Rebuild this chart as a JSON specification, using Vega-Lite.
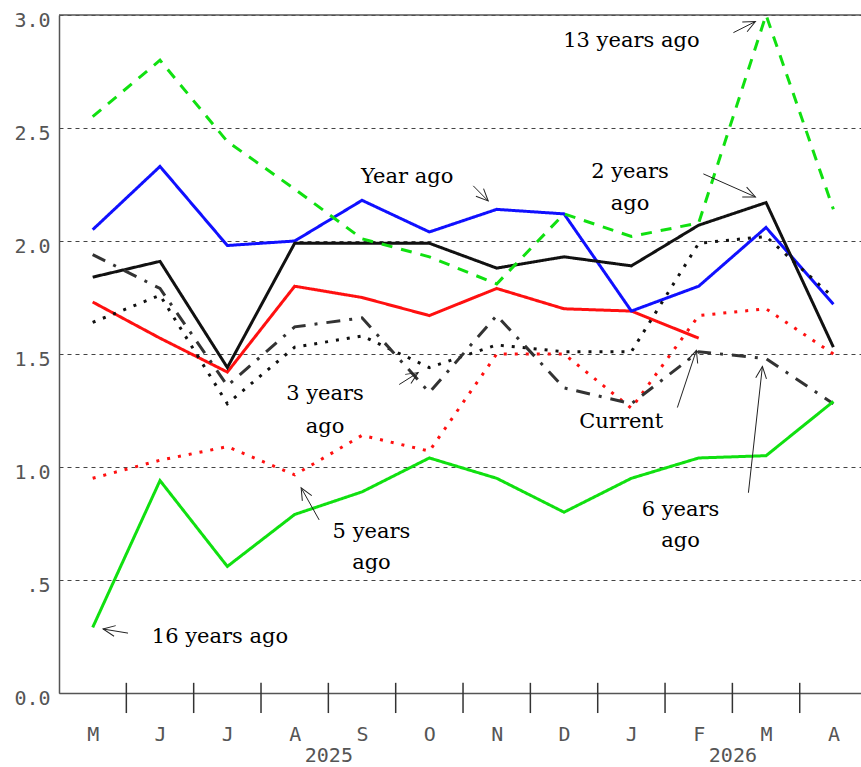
{
  "$schema": "https://vega.github.io/schema/vega-lite/v6.json",
  "width": 802,
  "height": 678,
  "autosize": {"type": "none"},
  "padding": {"left": 59, "top": 15, "right": 0, "bottom": 74},
  "background": "white",
  "config": {"view": {"stroke": null}},
  "datasets": {
    "lines": [
      {"series": "Current", "m": 1, "v": 1.73}, {"series": "Current", "m": 2, "v": 1.57}, {"series": "Current", "m": 3, "v": 1.42}, {"series": "Current", "m": 4, "v": 1.80}, {"series": "Current", "m": 5, "v": 1.75}, {"series": "Current", "m": 6, "v": 1.67}, {"series": "Current", "m": 7, "v": 1.79}, {"series": "Current", "m": 8, "v": 1.70}, {"series": "Current", "m": 9, "v": 1.69}, {"series": "Current", "m": 10, "v": 1.57},
      {"series": "Year ago", "m": 1, "v": 2.05}, {"series": "Year ago", "m": 2, "v": 2.33}, {"series": "Year ago", "m": 3, "v": 1.98}, {"series": "Year ago", "m": 4, "v": 2.00}, {"series": "Year ago", "m": 5, "v": 2.18}, {"series": "Year ago", "m": 6, "v": 2.04}, {"series": "Year ago", "m": 7, "v": 2.14}, {"series": "Year ago", "m": 8, "v": 2.12}, {"series": "Year ago", "m": 9, "v": 1.69}, {"series": "Year ago", "m": 10, "v": 1.80}, {"series": "Year ago", "m": 11, "v": 2.06}, {"series": "Year ago", "m": 12, "v": 1.72},
      {"series": "2 years ago", "m": 1, "v": 1.84}, {"series": "2 years ago", "m": 2, "v": 1.91}, {"series": "2 years ago", "m": 3, "v": 1.44}, {"series": "2 years ago", "m": 4, "v": 1.99}, {"series": "2 years ago", "m": 5, "v": 1.99}, {"series": "2 years ago", "m": 6, "v": 1.99}, {"series": "2 years ago", "m": 7, "v": 1.88}, {"series": "2 years ago", "m": 8, "v": 1.93}, {"series": "2 years ago", "m": 9, "v": 1.89}, {"series": "2 years ago", "m": 10, "v": 2.07}, {"series": "2 years ago", "m": 11, "v": 2.17}, {"series": "2 years ago", "m": 12, "v": 1.53},
      {"series": "3 years ago", "m": 1, "v": 1.64}, {"series": "3 years ago", "m": 2, "v": 1.76}, {"series": "3 years ago", "m": 3, "v": 1.28}, {"series": "3 years ago", "m": 4, "v": 1.53}, {"series": "3 years ago", "m": 5, "v": 1.58}, {"series": "3 years ago", "m": 6, "v": 1.44}, {"series": "3 years ago", "m": 7, "v": 1.54}, {"series": "3 years ago", "m": 8, "v": 1.51}, {"series": "3 years ago", "m": 9, "v": 1.51}, {"series": "3 years ago", "m": 10, "v": 1.99}, {"series": "3 years ago", "m": 11, "v": 2.02}, {"series": "3 years ago", "m": 12, "v": 1.75},
      {"series": "5 years ago", "m": 1, "v": 0.95}, {"series": "5 years ago", "m": 2, "v": 1.03}, {"series": "5 years ago", "m": 3, "v": 1.09}, {"series": "5 years ago", "m": 4, "v": 0.965}, {"series": "5 years ago", "m": 5, "v": 1.14}, {"series": "5 years ago", "m": 6, "v": 1.07}, {"series": "5 years ago", "m": 7, "v": 1.50}, {"series": "5 years ago", "m": 8, "v": 1.50}, {"series": "5 years ago", "m": 9, "v": 1.26}, {"series": "5 years ago", "m": 10, "v": 1.67}, {"series": "5 years ago", "m": 11, "v": 1.70}, {"series": "5 years ago", "m": 12, "v": 1.50},
      {"series": "6 years ago", "m": 1, "v": 1.94}, {"series": "6 years ago", "m": 2, "v": 1.79}, {"series": "6 years ago", "m": 3, "v": 1.36}, {"series": "6 years ago", "m": 4, "v": 1.62}, {"series": "6 years ago", "m": 5, "v": 1.66}, {"series": "6 years ago", "m": 6, "v": 1.33}, {"series": "6 years ago", "m": 7, "v": 1.67}, {"series": "6 years ago", "m": 8, "v": 1.35}, {"series": "6 years ago", "m": 9, "v": 1.28}, {"series": "6 years ago", "m": 10, "v": 1.51}, {"series": "6 years ago", "m": 11, "v": 1.48}, {"series": "6 years ago", "m": 12, "v": 1.28},
      {"series": "13 years ago", "m": 1, "v": 2.55}, {"series": "13 years ago", "m": 2, "v": 2.80}, {"series": "13 years ago", "m": 3, "v": 2.44}, {"series": "13 years ago", "m": 4, "v": 2.23}, {"series": "13 years ago", "m": 5, "v": 2.01}, {"series": "13 years ago", "m": 6, "v": 1.93}, {"series": "13 years ago", "m": 7, "v": 1.81}, {"series": "13 years ago", "m": 8, "v": 2.12}, {"series": "13 years ago", "m": 9, "v": 2.02}, {"series": "13 years ago", "m": 10, "v": 2.08}, {"series": "13 years ago", "m": 11, "v": 3.00}, {"series": "13 years ago", "m": 12, "v": 2.14},
      {"series": "16 years ago", "m": 1, "v": 0.29}, {"series": "16 years ago", "m": 2, "v": 0.94}, {"series": "16 years ago", "m": 3, "v": 0.56}, {"series": "16 years ago", "m": 4, "v": 0.79}, {"series": "16 years ago", "m": 5, "v": 0.89}, {"series": "16 years ago", "m": 6, "v": 1.04}, {"series": "16 years ago", "m": 7, "v": 0.95}, {"series": "16 years ago", "m": 8, "v": 0.80}, {"series": "16 years ago", "m": 9, "v": 0.95}, {"series": "16 years ago", "m": 10, "v": 1.04}, {"series": "16 years ago", "m": 11, "v": 1.05}, {"series": "16 years ago", "m": 12, "v": 1.29}
    ],
    "labels": [
      {"text": "13 years ago", "x": 9.0, "y": 2.887},
      {"text": "Year ago", "x": 5.67, "y": 2.283},
      {"text": "2 years", "x": 8.98, "y": 2.306},
      {"text": "ago", "x": 8.98, "y": 2.164},
      {"text": "3 years", "x": 4.45, "y": 1.321},
      {"text": "ago", "x": 4.45, "y": 1.179},
      {"text": "Current", "x": 8.85, "y": 1.201},
      {"text": "6 years", "x": 9.73, "y": 0.811},
      {"text": "ago", "x": 9.73, "y": 0.673},
      {"text": "5 years", "x": 5.14, "y": 0.713},
      {"text": "ago", "x": 5.14, "y": 0.575},
      {"text": "16 years ago", "x": 2.89, "y": 0.247}
    ],
    "arrows": [
      {"x": 10.515, "y": 2.922, "x2": 10.842, "y2": 2.971, "angle": 333.4},
      {"x": 6.652, "y": 2.244, "x2": 6.874, "y2": 2.177, "angle": 45},
      {"x": 10.069, "y": 2.297, "x2": 10.842, "y2": 2.195, "angle": 23.9},
      {"x": 5.552, "y": 1.365, "x2": 5.834, "y2": 1.418, "angle": 327.7},
      {"x": 9.683, "y": 1.263, "x2": 9.965, "y2": 1.516, "angle": 288.4},
      {"x": 10.738, "y": 0.886, "x2": 10.946, "y2": 1.445, "angle": 276.3},
      {"x": 4.363, "y": 0.766, "x2": 4.096, "y2": 0.908, "angle": 240.6},
      {"x": 1.525, "y": 0.265, "x2": 1.154, "y2": 0.283, "angle": 189.1}
    ],
    "ticks": [
      {"m": 1.5}, {"m": 2.5}, {"m": 3.5}, {"m": 4.5}, {"m": 5.5}, {"m": 6.5}, {"m": 7.5}, {"m": 8.5}, {"m": 9.5}, {"m": 10.5}, {"m": 11.5}
    ]
  },
  "layer": [
    {
      "data": {"name": "lines"},
      "mark": {"type": "line", "strokeWidth": 3, "strokeCap": "butt", "strokeJoin": "miter"},
      "encoding": {
        "x": {
          "field": "m", "type": "quantitative",
          "scale": {"domain": [0.5, 12.41], "nice": false, "zero": false},
          "axis": {
            "title": null,
            "values": [1, 2, 3, 4, 4.5, 5, 6, 7, 8, 9, 10, 10.5, 11, 12],
            "labelExpr": "datum.value == 4.5 ? ['', '2025'] : (datum.value == 10.5 ? ['', '2026'] : substring('MJJASONDJFMA', datum.value - 1, datum.value))",
            "labelFont": "DejaVu Sans Mono",
            "labelFontSize": 20,
            "labelColor": "#555",
            "labelBaseline": "top",
            "labelLineHeight": 21,
            "labelPadding": 31,
            "labelFlush": false,
            "labelOverlap": false,
            "labelBound": false,
            "ticks": false,
            "tickSize": 0,
            "domainColor": "#555",
            "domainWidth": 1.5,
            "grid": false
          }
        },
        "y": {
          "field": "v", "type": "quantitative",
          "scale": {"domain": [0, 3], "nice": false, "zero": true},
          "axis": {
            "title": null,
            "values": [0, 0.5, 1, 1.5, 2, 2.5, 3],
            "labelExpr": "datum.value == 0.5 ? '.5' : format(datum.value, '.1f')",
            "labelFont": "DejaVu Sans Mono",
            "labelFontSize": 20,
            "labelColor": "#555",
            "labelPadding": 9,
            "labelBaseline": "middle",
            "labelOffset": 5,
            "labelOverlap": false,
            "labelFlush": false,
            "ticks": false,
            "tickSize": 0,
            "domainColor": "#555",
            "domainWidth": 1.5,
            "grid": true,
            "gridColor": "#444",
            "gridWidth": 1,
            "gridDash": [4, 4]
          }
        },
        "color": {
          "field": "series", "type": "nominal", "legend": null,
          "scale": {
            "domain": ["Current", "Year ago", "2 years ago", "3 years ago", "5 years ago", "6 years ago", "13 years ago", "16 years ago"],
            "range": ["#ff1010", "#1010ff", "#111111", "#111111", "#ff1010", "#333333", "#10e010", "#10e010"]
          }
        },
        "strokeDash": {
          "field": "series", "type": "nominal", "legend": null,
          "scale": {
            "domain": ["Current", "Year ago", "2 years ago", "3 years ago", "5 years ago", "6 years ago", "13 years ago", "16 years ago"],
            "range": [[1, 0], [1, 0], [1, 0], [3, 8], [3, 8], [14, 9, 3, 9], [11, 9], [1, 0]]
          }
        }
      }
    },
    {
      "data": {"name": "ticks"},
      "mark": {"type": "rule", "color": "#333", "strokeWidth": 1.5},
      "encoding": {
        "x": {"field": "m", "type": "quantitative"},
        "y": {"datum": -0.0887, "type": "quantitative"},
        "y2": {"datum": 0.045}
      }
    },
    {
      "data": {"values": [{"top": 3}]},
      "mark": {"type": "rule", "color": "#555", "strokeWidth": 1.5},
      "encoding": {
        "y": {"field": "top", "type": "quantitative"}
      }
    },
    {
      "data": {"name": "arrows"},
      "mark": {"type": "rule", "color": "#222", "strokeWidth": 1},
      "encoding": {
        "x": {"field": "x", "type": "quantitative"},
        "y": {"field": "y", "type": "quantitative"},
        "x2": {"field": "x2"},
        "y2": {"field": "y2"}
      }
    },
    {
      "data": {"name": "arrows"},
      "mark": {"type": "point", "shape": "M -2 -0.9 L 0 0 L -2 0.9", "filled": false, "size": 144, "strokeWidth": 1, "color": "#222", "opacity": 1},
      "encoding": {
        "x": {"field": "x2", "type": "quantitative"},
        "y": {"field": "y2", "type": "quantitative"},
        "angle": {"field": "angle", "type": "quantitative", "scale": null}
      }
    },
    {
      "data": {"name": "labels"},
      "mark": {"type": "text", "font": "DejaVu Serif", "fontSize": 21, "align": "center", "baseline": "middle", "color": "#000"},
      "encoding": {
        "x": {"field": "x", "type": "quantitative"},
        "y": {"field": "y", "type": "quantitative"},
        "text": {"field": "text"}
      }
    }
  ]
}
